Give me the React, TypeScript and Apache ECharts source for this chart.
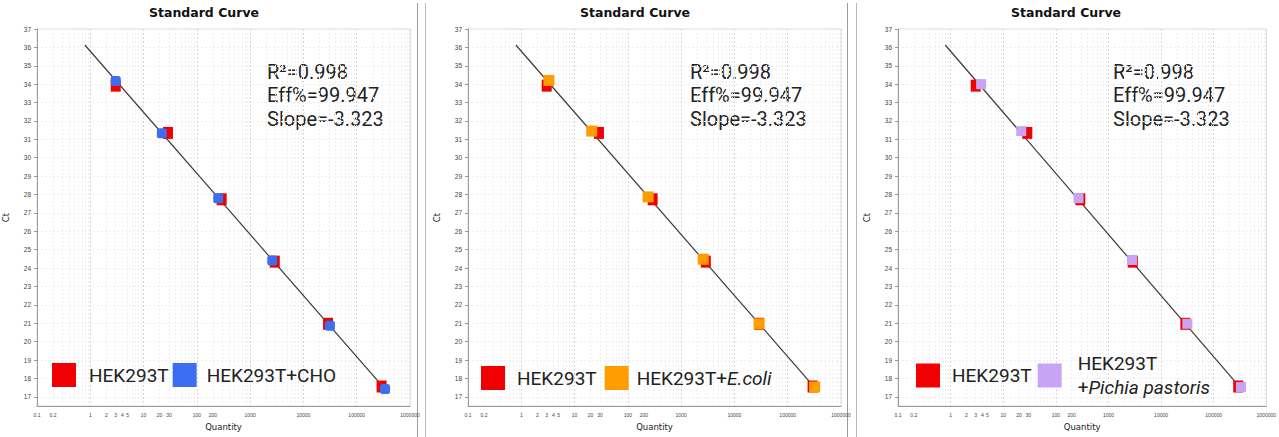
import { useEffect, useRef } from 'react';
import * as echarts from 'echarts';

// ---- data ----
const hek293t: [number, number][] = [
  [3.0, 33.92], [28.7, 31.35], [292, 27.74], [2900, 24.35], [29000, 20.97], [293000, 17.56],
];
const hekCho: [number, number][] = [
  [3.0, 34.17], [22, 31.33], [252, 27.8], [2600, 24.41], [31400, 20.86], [340000, 17.42],
];
const hekEcoli: [number, number][] = [
  [3.3, 34.2], [21, 31.45], [240, 27.87], [2600, 24.48], [29000, 20.97], [320000, 17.53],
];
const hekPichia: [number, number][] = [
  [3.8, 34.0], [22, 31.45], [270, 27.8], [2800, 24.44], [31600, 20.97], [330000, 17.53],
];
const fitLine: [number, number][] = [
  [0.79, 36.13], [300000, 17.6],
];
const statLines = ['R²=0.998', 'Eff%=99.947', 'Slope=-3.323'];

const xLabelValues = [0.1, 0.2, 1, 2, 3, 4, 5, 10, 20, 30, 100, 200, 1000, 10000, 100000, 1000000];
const xDecadeValues = [0.1, 1, 10, 100, 1000, 10000, 100000, 1000000];
const xMinorValues = [
  0.2, 0.3, 0.4, 0.5, 0.6, 0.7, 0.8, 0.9,
  2, 3, 4, 5, 6, 7, 8, 9,
  20, 30, 40, 50, 60, 70, 80, 90,
  200, 300, 400, 500, 600, 700, 800, 900,
  2000, 3000, 4000, 5000, 6000, 7000, 8000, 9000,
  20000, 30000, 40000, 50000, 60000, 70000, 80000, 90000,
  200000, 300000, 400000, 500000, 600000, 700000, 800000, 900000,
];
const yLabelValues = [17, 18, 19, 20, 21, 22, 23, 24, 25, 26, 27, 28, 29, 30, 31, 32, 33, 34, 35, 36, 37];

const panels = [
  { other: hekCho, otherName: 'HEK293T+CHO', otherColor: '#3d6ef2', otherSymbol: 'roundRect', otherSize: 10 },
  { other: hekEcoli, otherName: 'HEK293T+E.coli', otherColor: '#ff9c00', otherSymbol: 'rect', otherSize: 11 },
  { other: hekPichia, otherName: 'HEK293T+Pichia pastoris', otherColor: '#c9a3f4', otherSymbol: 'rect', otherSize: 10 },
];

const gridLefts = [37, 468, 898];
const titleLefts = [149, 580, 1011];
const statLefts = [267, 690, 1113];
const legendLefts = [52, 481, 916];
const legendTops = [363, 366, 354];

const fmt = (v: number) => String(Number(v.toPrecision(6)));

const LFONT = 'Roboto, "Liberation Sans", sans-serif';

function buildOption() {
  const grid: any[] = [];
  const xAxis: any[] = [];
  const yAxis: any[] = [];
  const series: any[] = [];
  const title: any[] = [];
  const legend: any[] = [];
  const graphic: any[] = [];

  panels.forEach((p, i) => {
    grid.push({
      left: gridLefts[i], top: 29, width: 373, height: 377,
      show: true, borderColor: '#dcdcdc', borderWidth: 1, backgroundColor: '#fff',
    });
    xAxis.push({
      type: 'log', logBase: 10, gridIndex: i, min: 0.1, max: 1000000,
      name: 'Quantity', nameLocation: 'middle', nameGap: 16,
      nameTextStyle: { fontFamily: '"DejaVu Sans", sans-serif', fontSize: 8.5, color: '#222' },
      axisLine: { show: true, lineStyle: { color: '#9a9a9a', width: 1 } },
      axisTick: { show: false, customValues: xMinorValues },
      axisLabel: {
        customValues: xLabelValues, fontSize: 5, color: '#444', margin: 6,
        fontFamily: '"Liberation Sans", Arial, sans-serif', hideOverlap: false,
        formatter: (v: number) => fmt(v),
      },
      splitLine: { show: true, lineStyle: { color: '#efefef', width: 1, type: [2, 2] } },
    });
    yAxis.push({
      type: 'value', gridIndex: i, min: 16.5, max: 37,
      name: 'Ct', nameLocation: 'middle', nameGap: 27, nameRotate: 90,
      nameTextStyle: { fontFamily: '"DejaVu Sans", sans-serif', fontSize: 8.5, color: '#222' },
      axisLine: { show: true, lineStyle: { color: '#9a9a9a', width: 1 } },
      axisTick: { show: true, length: 3, customValues: yLabelValues, lineStyle: { color: '#9a9a9a' } },
      axisLabel: {
        customValues: yLabelValues, fontSize: 6.5, color: '#444', margin: 6,
        fontFamily: '"Liberation Sans", Arial, sans-serif',
      },
      splitLine: { show: true, lineStyle: { color: '#eeeeee', width: 1, type: [2, 2] } },
    });
    title.push({
      text: 'Standard Curve', left: titleLefts[i], top: 6, padding: 0,
      textStyle: { fontFamily: '"DejaVu Sans", sans-serif', fontWeight: 'bold', fontSize: 12.5, color: '#111' },
    });
  });

  // darker decade grid lines (extra hidden axes)
  panels.forEach((_p, i) => {
    xAxis.push({
      type: 'log', logBase: 10, gridIndex: i, min: 0.1, max: 1000000, position: 'bottom',
      axisLine: { show: false }, axisLabel: { show: false },
      axisTick: { show: false, customValues: xDecadeValues },
      splitLine: { show: true, lineStyle: { color: '#d6d6d6', width: 1, type: [2, 2] } },
    });
  });

  panels.forEach((p, i) => {
    series.push({
      type: 'line', name: 'fit', xAxisIndex: i, yAxisIndex: i, data: fitLine,
      symbol: 'none', lineStyle: { color: '#3a3a3a', width: 1.2 }, z: 2, silent: true,
    });
    series.push({
      type: 'scatter', name: 'HEK293T', xAxisIndex: i, yAxisIndex: i, data: hek293t,
      symbol: 'rect', symbolSize: [10, 12], itemStyle: { color: '#f00000', opacity: 1 }, z: 3,
    });
    series.push({
      type: 'scatter', name: p.otherName, xAxisIndex: i, yAxisIndex: i, data: p.other,
      symbol: p.otherSymbol, symbolSize: p.otherSize, itemStyle: { color: p.otherColor, opacity: 1 }, z: 4,
    });

    const pad1 = [8, 7, 7][i];
    const pad2 = [5, 3, 11][i];
    const base = { fontFamily: LFONT, fontWeight: 'normal', fontSize: 19, color: '#222' };
    legend.push({
      left: legendLefts[i], top: legendTops[i], padding: 0, orient: 'horizontal',
      itemWidth: 24, itemHeight: 24, itemGap: [4, 8, 6][i], icon: 'rect',
      data: ['HEK293T', p.otherName], selectedMode: false,
      itemStyle: { opacity: 1 },
      textStyle: {
        ...base,
        rich: {
          a: { ...base, padding: [0, 0, 0, pad1] },
          b: { ...base, padding: [0, 0, 0, pad2] },
          bi: { ...base, fontStyle: 'italic' },
          c: { ...base, lineHeight: 24, padding: [0, 0, 0, pad2] },
          ci: { ...base, fontStyle: 'italic', lineHeight: 24 },
        },
      },
      formatter: (name: string) => {
        if (name === 'HEK293T') return `{a|HEK293T}`;
        if (name === 'HEK293T+E.coli') return `{b|HEK293T+}{bi|E.coli}`;
        if (name === 'HEK293T+Pichia pastoris') return `{c|HEK293T}\n{c|+}{ci|Pichia pastoris}`;
        return `{b|${name}}`;
      },
    });

    graphic.push({
      type: 'text', left: statLefts[i], top: 60, silent: true,
      style: {
        text: statLines.join('\n'), fill: '#222',
        font: `normal 20px ${LFONT}`, lineHeight: 23.5,
      },
    });
  });

  // panel separators
  [417.5, 425.5, 847.5, 856.5].forEach((x, k) => {
    graphic.push({
      type: 'line', silent: true,
      shape: { x1: x, y1: 3, x2: x, y2: 437 },
      style: { stroke: k % 2 === 0 ? '#9c9c9c' : '#b8b8b8', lineWidth: 1 },
    });
  });

  return {
    animation: false,
    backgroundColor: '#ffffff',
    title, grid, xAxis, yAxis, series, legend, graphic,
  };
}

export default function App() {
  const ref = useRef<HTMLDivElement>(null);
  useEffect(() => {
    if (!ref.current) return;
    const chart = echarts.init(ref.current, undefined, { renderer: 'svg' });
    chart.setOption(buildOption() as any);
    return () => chart.dispose();
  }, []);
  return (
    <div
      ref={ref}
      style={{ position: 'absolute', left: 0, top: 0, width: 1279, height: 437 }}
    />
  );
}
